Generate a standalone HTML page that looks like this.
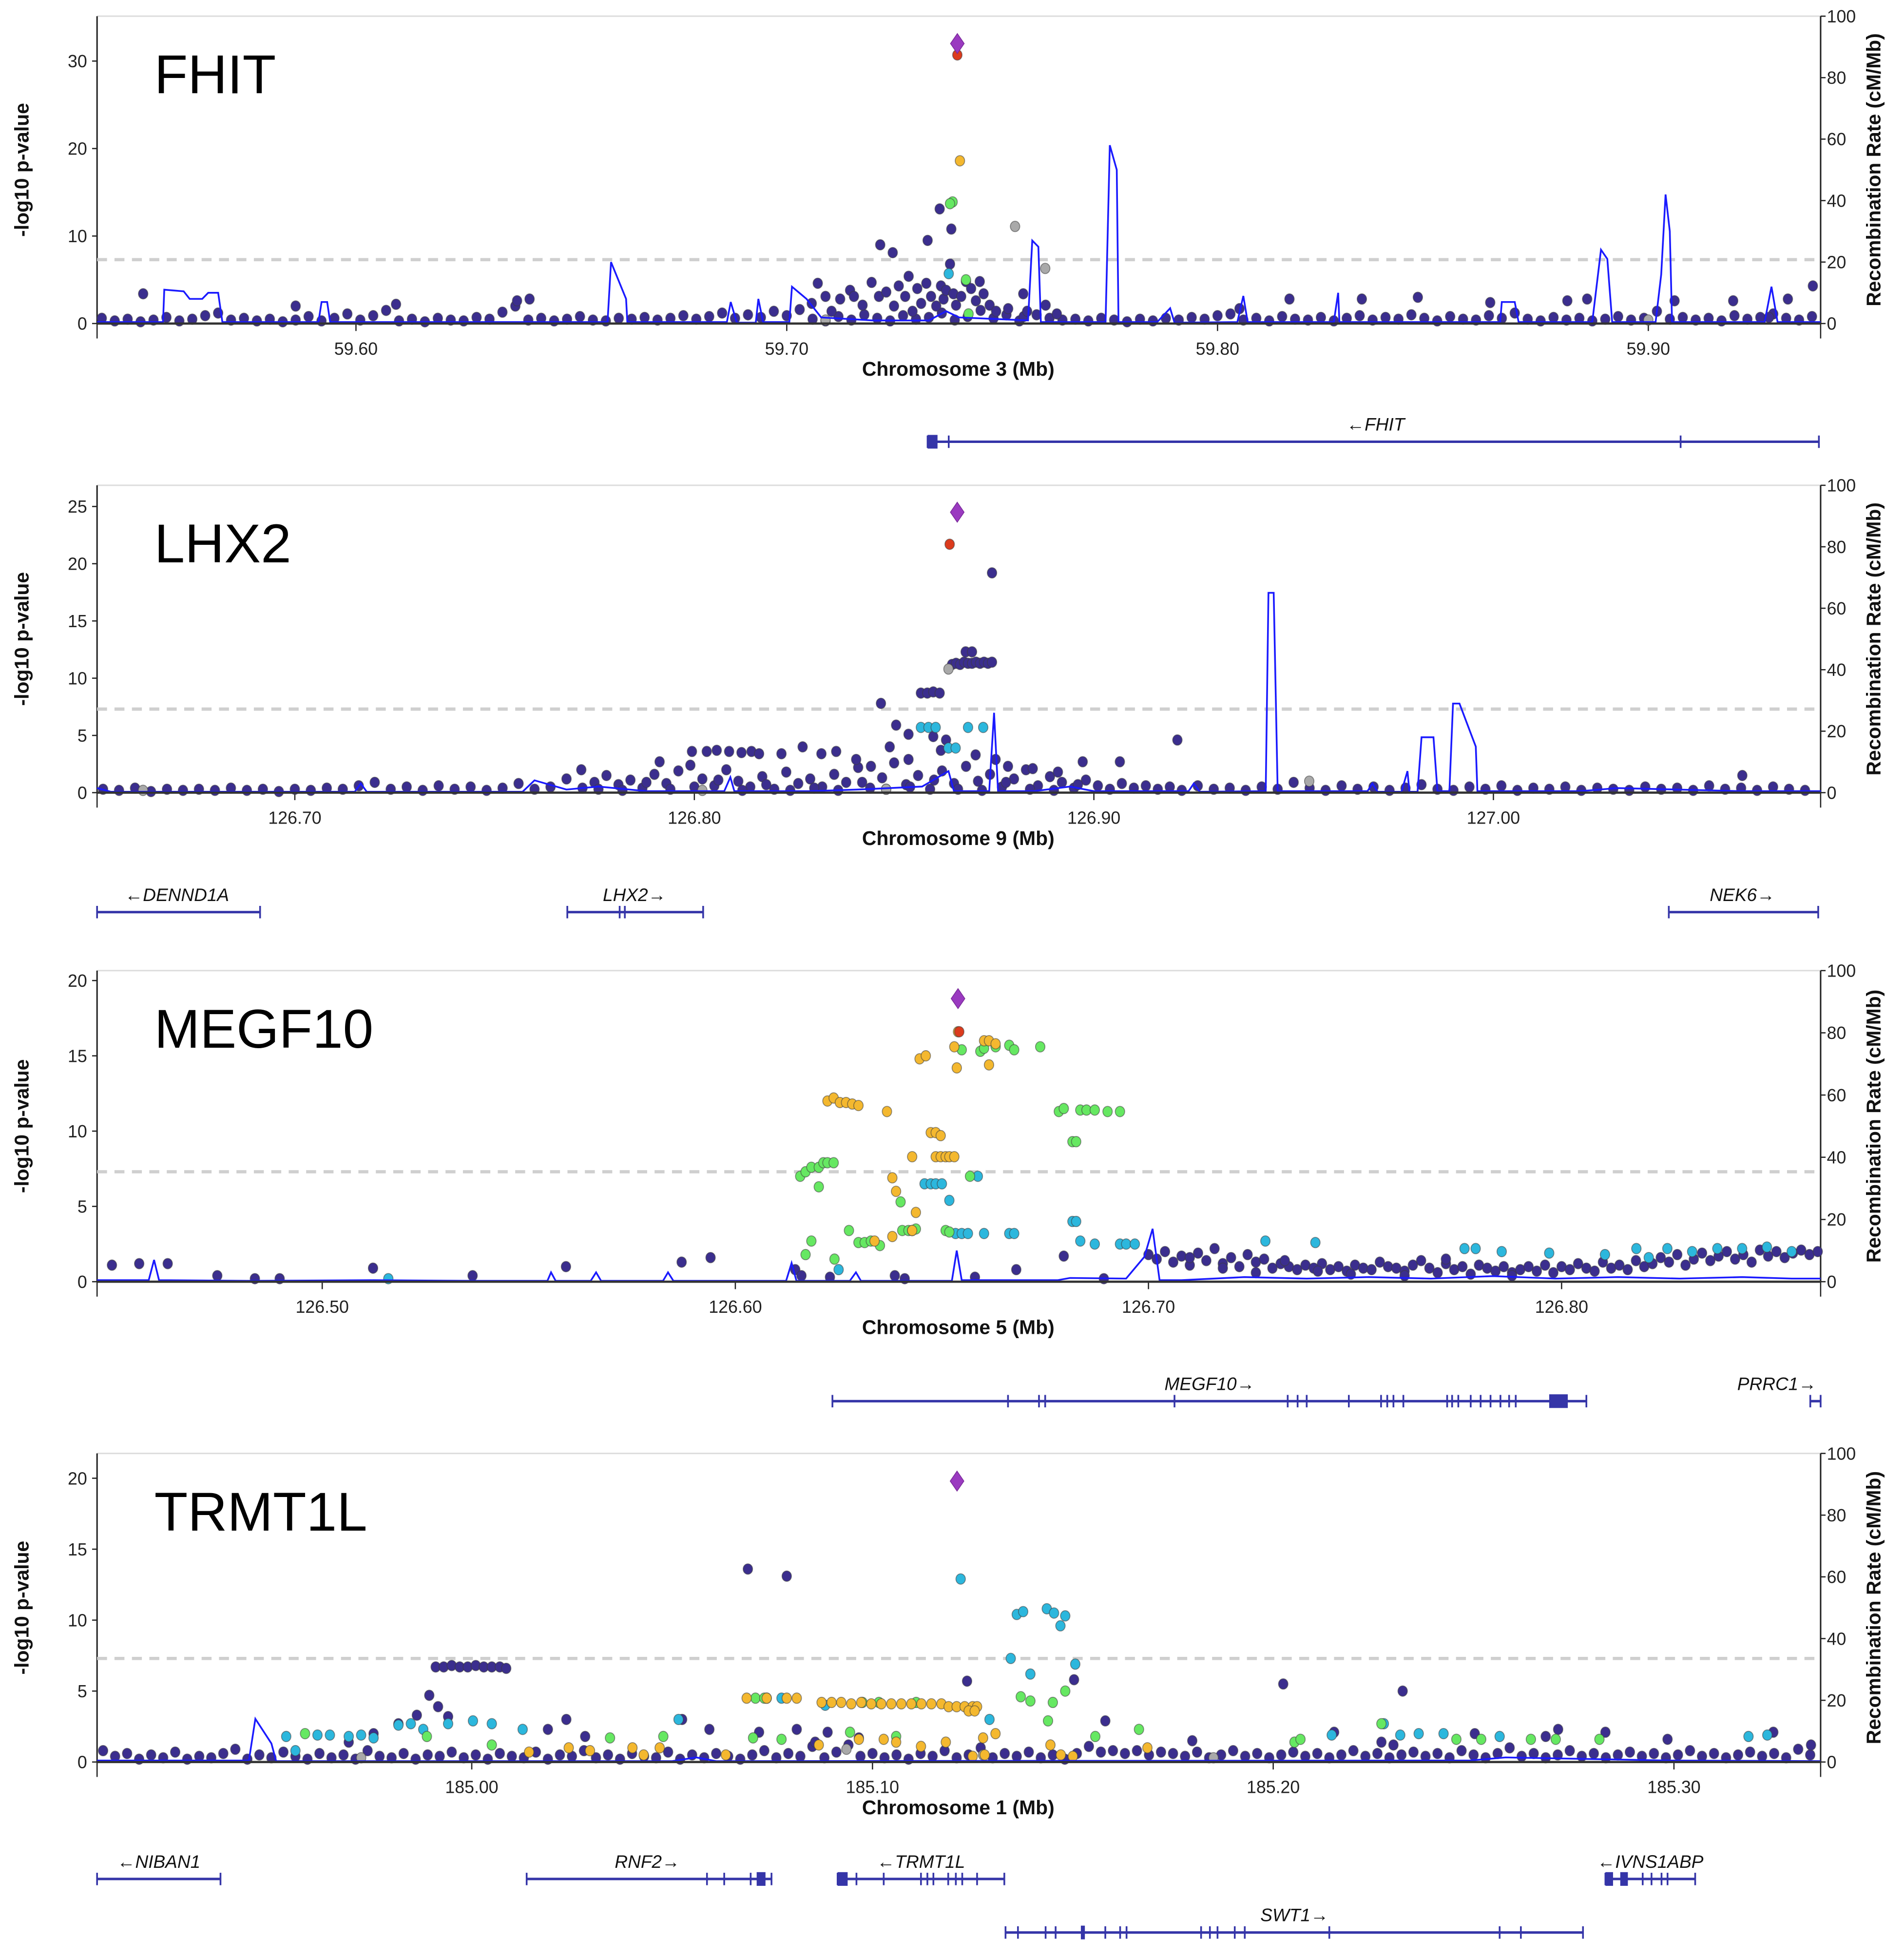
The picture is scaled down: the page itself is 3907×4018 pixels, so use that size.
<!DOCTYPE html>
<html><head><meta charset="utf-8"><title>Regional association plots</title>
<style>
html,body{margin:0;padding:0;background:#fff;}
svg{display:block;font-family:"Liberation Sans",Arial,sans-serif;}
</style></head>
<body>
<svg id="chart" xmlns="http://www.w3.org/2000/svg" width="3907" height="4018" viewBox="0 0 1530 1573.5" preserveAspectRatio="none"></svg>
<script>
// ---------------- DATA ----------------
// FHIT panel (chr3)
const fhitXTicks = [59.60, 59.70, 59.80, 59.90];
const fhitYTicks = [0, 10, 20, 30];
const fhitLead = [59.7396, 32.0];
const fhitBase = [[59.541,.6],[59.544,.3],[59.547,.5],[59.550,.2],[59.553,.4],[59.556,.7],[59.559,.3],[59.562,.5],[59.565,.9],[59.568,1.2],[59.571,.4],[59.574,.6],[59.577,.3],[59.580,.5],[59.583,.2],[59.586,.4],[59.589,.8],[59.592,.3],[59.595,.6],[59.598,1.1],[59.601,.4],[59.604,.9],[59.607,1.5],[59.610,.3],[59.613,.5],[59.616,.2],[59.619,.6],[59.622,.4],[59.625,.3],[59.628,.7],[59.631,.5],[59.634,1.3],[59.637,2.0],[59.640,.4],[59.643,.6],[59.646,.3],[59.649,.5],[59.652,.8],[59.655,.4],[59.658,.3],[59.661,.6],[59.664,.5],[59.667,.7],[59.670,.4],[59.673,.6],[59.676,.9],[59.679,.5],[59.682,.8],[59.685,1.2],[59.688,.6],[59.691,1.0],[59.694,.7],[59.697,1.4],[59.700,.9],[59.703,1.6],[59.706,.5],[59.709,.3],[59.712,.8],[59.715,.4],[59.718,1.0],[59.721,.6],[59.724,.3],[59.727,.9],[59.730,.5],[59.733,.7],[59.736,1.2],[59.739,.4],[59.742,.8],[59.745,1.5],[59.748,.6],[59.751,1.0],[59.754,.3],[59.755,.8],[59.758,1.0],[59.761,.6],[59.764,.4],[59.767,.5],[59.770,.3],[59.773,.6],[59.776,.4],[59.779,.2],[59.782,.5],[59.785,.3],[59.788,.6],[59.791,.4],[59.794,.7],[59.797,.5],[59.800,.9],[59.803,1.1],[59.806,.4],[59.809,.6],[59.812,.3],[59.815,.8],[59.818,.5],[59.821,.4],[59.824,.7],[59.827,.3],[59.830,.6],[59.833,.9],[59.836,.4],[59.839,.7],[59.842,.5],[59.845,1.0],[59.848,.6],[59.851,.3],[59.854,.8],[59.857,.5],[59.860,.4],[59.863,.9],[59.866,.6],[59.869,1.2],[59.872,.5],[59.875,.3],[59.878,.7],[59.881,.4],[59.884,.6],[59.887,.3],[59.890,.5],[59.893,.8],[59.896,.4],[59.899,.6],[59.902,1.4],[59.905,.5],[59.908,.7],[59.911,.4],[59.914,.6],[59.917,.3],[59.920,.9],[59.923,.5],[59.926,.7],[59.929,1.1],[59.932,.6],[59.935,.4],[59.938,.8],
[59.5506,3.4],[59.6093,2.2],[59.6374,2.6],[59.6403,2.8],[59.5860,2.0],[59.8051,1.7],[59.8167,2.8],[59.8335,2.8],[59.8465,3.0],[59.8633,2.4],[59.8812,2.6],[59.8858,2.8],[59.9061,2.6],[59.9197,2.6],[59.9324,2.8],[59.9382,4.3],[59.9280,0.7]];
const fhitNavy = [[59.7058,2.3],[59.7072,4.6],[59.7090,3.1],[59.7104,1.4],[59.7124,2.8],[59.7147,3.8],[59.7156,3.1],[59.7176,2.1],[59.7197,4.7],[59.7214,3.1],[59.7217,9.0],[59.7231,3.6],[59.7246,8.1],[59.7249,2.0],[59.7260,4.3],[59.7275,3.1],[59.7283,5.4],[59.7292,1.4],[59.7303,4.0],[59.7312,2.3],[59.7327,9.5],[59.7324,4.6],[59.7335,3.1],[59.7347,2.0],[59.7355,13.1],[59.7358,4.3],[59.7364,2.8],[59.7370,3.8],[59.7382,10.8],[59.7379,6.8],[59.7387,3.4],[59.7393,2.1],[59.7405,3.1],[59.7416,4.8],[59.7428,4.0],[59.7439,2.6],[59.7448,4.8],[59.7457,3.4],[59.7471,2.1],[59.7486,1.4],[59.7514,1.7],[59.7549,3.4],[59.7558,1.4],[59.7601,2.1],[59.7627,1.1]];
const fhitGray = [[59.7530,11.1],[59.7600,6.3],[59.7090,0.4],[59.9000,0.4]];
const fhitCyan = [[59.7376,5.7]];
const fhitGreen = [[59.7385,13.9],[59.7379,13.7],[59.7416,5.0],[59.7422,1.1]];
const fhitOrange = [[59.7402,18.6]];
const fhitRed = [[59.7396,30.7]];
const fhitRecomb = [[59.5399,.5],[59.5552,.5],[59.5555,11],[59.5600,10.5],[59.5614,8],[59.5643,8],[59.5657,10],[59.5680,10],[59.5690,.5],[59.5913,.5],[59.5920,7],[59.5933,7],[59.5940,.5],[59.6584,.5],[59.6592,20],[59.6627,8],[59.6630,.5],[59.6861,.5],[59.6870,7],[59.6884,.3],[59.6928,.3],[59.6934,8],[59.6945,.5],[59.7006,.5],[59.7012,12],[59.7046,8],[59.7080,2],[59.7200,1],[59.7330,1],[59.7370,4],[59.7400,2],[59.7560,1],[59.7570,27],[59.7584,25],[59.7590,.5],[59.7740,.5],[59.7750,58],[59.7766,50],[59.7770,.5],[59.7860,.5],[59.7890,5],[59.7900,.3],[59.8046,.5],[59.8060,9],[59.8070,.5],[59.8270,.5],[59.8280,10],[59.8283,.5],[59.8656,.5],[59.8660,7],[59.8690,7],[59.8699,.5],[59.8870,.5],[59.8890,24],[59.8905,21],[59.8916,.5],[59.9017,.5],[59.9030,16],[59.9040,42],[59.9050,30],[59.9055,.5],[59.9270,.5],[59.9286,12],[59.9300,.5],[59.9400,.5]];

// LHX2 panel (chr9)
const lhx2XTicks = [126.70, 126.80, 126.90, 127.00];
const lhx2YTicks = [0, 5, 10, 15, 20, 25];
const lhx2Lead = [126.8658, 24.5];
const lhx2Base = [[126.652,.3],[126.656,.2],[126.660,.4],[126.664,.1],[126.668,.3],[126.672,.2],[126.676,.3],[126.680,.2],[126.684,.4],[126.688,.2],[126.692,.3],[126.696,.1],[126.700,.3],[126.704,.2],[126.708,.4],[126.712,.3],[126.716,.6],[126.720,.9],[126.724,.3],[126.728,.5],[126.732,.2],[126.736,.6],[126.740,.3],[126.744,.5],[126.748,.2],[126.752,.4],[126.756,.8],[126.760,.3],[126.764,.5],[126.768,1.2],[126.772,.4],[126.775,.9],[126.778,1.5],[126.781,.7],[126.784,1.1],[126.787,.4],[126.790,1.6],[126.793,.8],[126.796,1.9],[126.799,2.4],[126.802,1.2],[126.805,.6],[126.808,2.0],[126.811,1.0],[126.814,.5],[126.817,1.4],[126.820,.3],[126.823,1.8],[126.826,.8],[126.829,1.2],[126.832,.5],[126.835,1.6],[126.838,.9],[126.841,2.2],[126.844,.4],[126.847,1.3],[126.850,2.6],[126.853,.7],[126.856,1.5],[126.859,.3],[126.862,1.9],[126.865,.8],[126.868,2.3],[126.871,1.0],[126.874,1.6],[126.877,.5],[126.880,1.2],[126.883,2.0],[126.886,.6],[126.889,1.4],[126.892,.9],[126.895,.4],[126.898,1.1],[126.901,.6],[126.904,.3],[126.907,.8],[126.910,.4],[126.913,.6],[126.916,.3],[126.919,.5],[126.922,.2],[126.926,.6],[126.930,.3],[126.934,.4],[126.938,.2],[126.942,.5],[126.946,.3],[126.950,.9],[126.954,.4],[126.958,.2],[126.962,.6],[126.966,.3],[126.970,.5],[126.974,.2],[126.978,.4],[126.982,.7],[126.986,.3],[126.990,.2],[126.994,.5],[126.998,.3],[127.002,.6],[127.006,.2],[127.010,.4],[127.014,.3],[127.018,.5],[127.022,.2],[127.026,.4],[127.030,.3],[127.034,.2],[127.038,.5],[127.042,.3],[127.046,.4],[127.050,.2],[127.054,.6],[127.058,.3],[127.062,.4],[127.066,.2],[127.070,.5],[127.074,.3],[127.078,.2],
[126.776,.3],[126.782,.2],[126.788,.9],[126.794,.3],[126.800,.5],[126.806,1.1],[126.812,.2],[126.818,.7],[126.824,.2],[126.830,.4],[126.836,.2],[126.842,.9],[126.848,.3],[126.854,.5],[126.860,1.1],[126.866,.3],[126.872,.2],[126.878,.9],[126.884,.3],[126.890,.2],[126.896,.7]];
const lhx2Navy = [[126.8745,19.2],[126.8645,11.2],[126.8655,11.3],[126.8665,11.2],[126.8675,11.4],[126.8685,11.3],[126.8695,11.3],[126.8705,11.4],[126.8715,11.3],[126.8725,11.4],[126.8735,11.3],[126.8745,11.4],[126.8679,12.3],[126.8695,12.3],[126.8567,8.7],[126.8583,8.7],[126.8598,8.8],[126.8614,8.7],[126.8467,7.8],[126.8505,5.9],[126.8536,5.1],[126.8598,4.9],[126.8630,4.6],[126.8617,3.7],[126.8704,3.3],[126.7717,2.0],[126.7913,2.7],[126.7994,3.6],[126.8031,3.6],[126.8056,3.7],[126.8087,3.6],[126.8118,3.5],[126.8143,3.6],[126.8162,3.4],[126.8218,3.4],[126.8271,4.0],[126.8318,3.4],[126.8355,3.6],[126.8405,2.9],[126.8442,2.3],[126.8489,4.0],[126.8536,2.9],[126.8754,2.9],[126.8785,2.3],[126.8847,2.1],[126.8910,1.8],[126.8972,2.7],[126.9065,2.7],[126.9209,4.6],[127.0623,1.5]];
const lhx2Gray = [[126.8636,10.8],[126.9539,1.0],[126.6620,0.2],[126.8020,0.2],[126.8480,0.3]];
const lhx2Cyan = [[126.8567,5.7],[126.8586,5.7],[126.8604,5.7],[126.8685,5.7],[126.8723,5.7],[126.8636,3.9],[126.8654,3.9]];
const lhx2Red = [[126.8639,21.7]];
const lhx2Recomb = [[126.6505,1.5],[126.654,.3],[126.715,.3],[126.7165,3],[126.718,.3],[126.757,.3],[126.760,4],[126.768,1],[126.776,2],[126.788,.5],[126.8075,.5],[126.809,5],[126.810,.5],[126.829,.5],[126.841,1],[126.857,2],[126.8636,7],[126.865,.5],[126.8738,.5],[126.875,26],[126.876,.5],[126.885,.5],[126.894,2],[126.900,.5],[126.9237,.5],[126.925,3],[126.9265,.3],[126.943,.5],[126.9437,65],[126.945,65],[126.946,.5],[126.9685,.5],[126.9697,3],[126.971,.3],[126.977,.3],[126.9785,7],[126.979,.3],[126.981,.3],[126.982,18],[126.985,18],[126.986,.5],[126.989,.5],[126.9899,29],[126.9915,29],[126.9956,15],[126.996,.5],[127.0218,.5],[127.031,1.5],[127.062,.5],[127.082,.5]];

// MEGF10 panel (chr5)
const megXTicks = [126.50, 126.60, 126.70, 126.80];
const megYTicks = [0, 5, 10, 15, 20];
const megLead = [126.6539, 18.8];
const megBase = [[126.4491,1.1],[126.4557,1.2],[126.4626,1.2],[126.4746,.4],[126.4837,.2],[126.4897,.2],[126.5123,.9],[126.5364,.4],[126.5590,1.0],[126.5870,1.3],[126.5940,1.6],[126.6145,.8],[126.6160,.4],[126.6229,.3],[126.6386,.4],[126.6680,.8],[126.6795,1.7],[126.6892,.2],[126.6410,.2],[126.6580,.3],
[126.700,1.8],[126.702,1.5],[126.704,2.0],[126.706,1.3],[126.708,1.7],[126.710,1.1],[126.712,1.9],[126.714,1.4],[126.716,2.2],[126.718,1.2],[126.720,1.6],[126.722,1.0],[126.724,1.8],[126.726,1.3],[126.728,1.5],[126.730,.9],[126.732,1.2],[126.734,1.0],[126.736,.8],[126.738,1.1],[126.740,.9],[126.742,1.2],[126.744,.8],[126.746,1.0],[126.748,.7],[126.750,1.1],[126.752,.9],[126.754,.8],[126.756,1.3],[126.758,1.0],[126.760,.9],[126.762,.7],[126.764,1.1],[126.766,1.4],[126.768,.9],[126.770,.6],[126.772,1.2],[126.774,.8],[126.776,1.0],[126.778,.5],[126.780,1.1],[126.782,.9],[126.784,.7],[126.786,1.0],[126.788,.6],[126.790,.8],[126.792,1.0],[126.794,.7],[126.796,1.1],[126.798,.6],[126.800,1.0],[126.802,.8],[126.804,1.2],[126.806,.9],[126.808,.7],[126.810,1.3],[126.812,.9],[126.814,1.1],[126.816,.8],[126.818,1.4],[126.820,1.0],[126.822,1.2],[126.824,1.6],[126.826,1.3],[126.828,1.8],[126.830,1.1],[126.832,1.5],[126.834,1.9],[126.836,1.4],[126.838,1.7],[126.840,2.0],[126.842,1.5],[126.844,1.8],[126.846,1.3],[126.848,2.1],[126.850,1.7],[126.852,2.0],[126.854,1.6],[126.856,1.9],[126.858,2.1],[126.860,1.8],[126.862,2.0],
[126.7100,1.6],[126.7180,.9],[126.7260,.6],[126.7330,1.4],[126.7410,.7],[126.7490,.5],[126.7620,.4],[126.7720,1.5],[126.7880,.4]];
const megOrange = [[126.6539,16.6],[126.6530,15.6],[126.6536,14.2],[126.6446,14.8],[126.6461,15.0],[126.6602,16.0],[126.6614,16.0],[126.6630,15.8],[126.6223,12.0],[126.6238,12.2],[126.6253,11.9],[126.6268,11.9],[126.6283,11.8],[126.6298,11.7],[126.6367,11.3],[126.6473,9.9],[126.6485,9.9],[126.6497,9.7],[126.6428,8.3],[126.6485,8.3],[126.6497,8.3],[126.6509,8.3],[126.6518,8.3],[126.6530,8.3],[126.6380,6.9],[126.6389,6.0],[126.6437,4.6],[126.6380,3.0],[126.6337,2.7],[126.6428,3.4],[126.6614,14.4]];
const megGreen = [[126.6593,15.3],[126.6602,15.5],[126.6630,15.6],[126.6663,15.7],[126.6675,15.4],[126.6738,15.6],[126.6548,15.4],[126.6157,7.0],[126.6170,7.3],[126.6184,7.6],[126.6202,7.6],[126.6213,7.9],[126.6223,7.9],[126.6238,7.9],[126.6202,6.3],[126.6184,2.7],[126.6298,2.6],[126.6313,2.6],[126.6328,2.7],[126.6350,2.4],[126.6404,3.4],[126.6419,3.4],[126.6428,3.4],[126.6437,3.5],[126.6509,3.4],[126.6518,3.3],[126.6783,11.3],[126.6795,11.5],[126.6835,11.4],[126.6850,11.4],[126.6870,11.4],[126.6901,11.3],[126.6931,11.3],[126.6816,9.3],[126.6825,9.3],[126.6568,7.0],[126.6400,5.3],[126.6275,3.4],[126.6170,1.8],[126.6240,1.5]];
const megCyan = [[126.6458,6.5],[126.6473,6.5],[126.6485,6.5],[126.6500,6.5],[126.6587,7.0],[126.6518,5.4],[126.6533,3.2],[126.6548,3.2],[126.6563,3.2],[126.6602,3.2],[126.6663,3.2],[126.6675,3.2],[126.6816,4.0],[126.6825,4.0],[126.6870,2.5],[126.6931,2.5],[126.6946,2.5],[126.6967,2.5],[126.6835,2.7],[126.7283,2.7],[126.7404,2.6],[126.7765,2.2],[126.7792,2.2],[126.7855,2.0],[126.7970,1.9],[126.8105,1.8],[126.8181,2.2],[126.8211,1.6],[126.8256,2.2],[126.8316,2.0],[126.8377,2.2],[126.8437,2.2],[126.8497,2.3],[126.8557,2.0],[126.6250,0.8],[126.5160,0.2]];
const megRed = [[126.6542,16.6]];
const megRecomb = [[126.4455,.5],[126.458,.5],[126.4593,7],[126.4605,.5],[126.4822,.3],[126.5123,.5],[126.5364,.3],[126.5545,.3],[126.5554,3],[126.5565,.3],[126.5650,.3],[126.5663,3],[126.5675,.3],[126.5825,.3],[126.5837,3],[126.585,.3],[126.6123,.3],[126.6136,6],[126.6148,.3],[126.6277,.3],[126.6292,3],[126.6304,.3],[126.6524,.3],[126.6536,10],[126.6548,.5],[126.678,.5],[126.681,1.2],[126.6946,1],[126.6990,8],[126.7010,17],[126.7027,.5],[126.708,.5],[126.7232,1.5],[126.7383,1],[126.7533,1.5],[126.7684,1],[126.7834,1.8],[126.7985,1],[126.8136,1.5],[126.8286,1],[126.8437,1.5],[126.8557,1],[126.8627,1]];

// TRMT1L panel (chr1)
const trmXTicks = [185.00, 185.10, 185.20, 185.30];
const trmYTicks = [0, 5, 10, 15, 20];
const trmLead = [185.1211, 19.8];
const trmBase = [[184.908,.8],[184.911,.4],[184.914,.6],[184.917,.2],[184.920,.5],[184.923,.3],[184.926,.7],[184.929,.2],[184.932,.4],[184.935,.3],[184.938,.6],[184.941,.9],[184.944,.2],[184.947,.5],[184.950,.3],[184.953,.7],[184.956,.4],[184.959,.2],[184.962,.6],[184.965,.3],[184.968,.5],[184.971,.2],[184.974,.8],[184.977,.4],[184.980,.3],[184.983,.6],[184.986,.2],[184.989,.5],[184.992,.4],[184.995,.7],[184.998,.3],[185.001,.5],[185.004,.2],[185.007,.6],[185.010,.4],[185.013,.3],[185.016,.7],[185.019,.2],[185.022,.5],[185.025,.4],[185.028,.8],[185.031,.3],[185.034,.5],[185.037,.2],[185.040,.6],[185.043,.4],[185.046,.3],[185.049,.7],[185.052,.2],[185.055,.5],[185.058,.3],[185.061,.6],[185.064,.4],[185.067,.2],[185.070,.5],[185.073,.8],[185.076,.3],[185.079,.6],[185.082,.4],[185.085,1.1],[185.088,.3],[185.091,.7],[185.094,1.2],[185.097,.4],[185.100,.6],[185.103,.3],[185.106,.5],[185.109,.2],[185.112,.6],[185.115,.4],[185.118,.8],[185.121,.3],[185.124,.5],[185.127,1.0],[185.130,.3],[185.133,.6],[185.136,.4],[185.139,.7],[185.142,.3],[185.145,.5],[185.148,.2],[185.151,.6],[185.154,1.1],[185.157,.7],[185.160,.8],[185.163,.6],[185.166,.8],[185.169,.5],[185.172,.7],[185.175,.6],[185.178,.4],[185.181,.7],[185.184,.3],[185.187,.5],[185.190,.8],[185.193,.4],[185.196,.6],[185.199,.3],[185.202,.5],[185.205,.7],[185.208,.4],[185.211,.6],[185.214,.3],[185.217,.5],[185.220,.8],[185.223,.4],[185.226,.6],[185.229,.3],[185.232,.5],[185.235,.7],[185.238,.4],[185.241,.6],[185.244,.3],[185.247,.8],[185.250,.5],[185.253,.3],[185.256,.6],[185.259,1.0],[185.262,.4],[185.265,.6],[185.268,.3],[185.271,.5],[185.274,.8],[185.277,.4],[185.280,.6],[185.283,.3],[185.286,.5],[185.289,.7],[185.292,.4],[185.295,.6],[185.298,.3],[185.301,.5],[185.304,.8],[185.307,.4],[185.310,.6],[185.313,.3],[185.316,.5],[185.319,.7],[185.322,.4],[185.325,.6],[185.328,.3],[185.331,.9],[185.334,.5]];
const trmNavy = [[185.0689,13.6],[185.0786,13.1],[184.9910,6.7],[184.9930,6.7],[184.9950,6.8],[184.9970,6.7],[184.9990,6.7],[185.0010,6.8],[185.0030,6.7],[185.0050,6.7],[185.0070,6.7],[185.0086,6.6],[184.9894,4.7],[184.9916,3.9],[184.9817,2.7],[184.9863,3.3],[184.9941,3.2],[184.9755,2.0],[184.9693,1.4],[185.0190,2.3],[185.0236,3.0],[185.0283,1.8],[185.0525,3.0],[185.0593,2.3],[185.0717,2.1],[185.0811,2.3],[185.0857,1.4],[185.0888,2.1],[185.0966,1.7],[185.1236,5.7],[185.1503,5.8],[185.1581,2.9],[185.1798,1.5],[185.2025,5.5],[185.2152,2.1],[185.2270,1.4],[185.2323,5.0],[185.2503,2.0],[185.2711,2.3],[185.2829,2.1],[185.2984,1.6],[185.3248,2.1],[185.3342,1.2],[185.2680,1.8],[185.2300,1.2]];
const trmOrange = [[185.0686,4.5],[185.0736,4.5],[185.0786,4.5],[185.0811,4.5],[185.0873,4.2],[185.0898,4.2],[185.0922,4.2],[185.0947,4.1],[185.0972,4.2],[185.0997,4.1],[185.1022,4.1],[185.1047,4.1],[185.1072,4.1],[185.1097,4.1],[185.1122,4.1],[185.1147,4.1],[185.1172,4.1],[185.1190,3.9],[185.1210,3.9],[185.1230,3.9],[185.1250,3.9],[185.1261,3.9],[185.1240,3.6],[185.1255,3.6],
[185.0143,0.7],[185.0242,1.0],[185.0295,0.8],[185.0401,1.0],[185.0429,0.5],[185.0469,1.0],[185.0634,0.5],[185.0866,1.2],[185.0966,1.6],[185.1028,1.6],[185.1059,1.4],[185.1121,1.1],[185.1183,1.4],[185.1276,1.7],[185.1307,2.0],[185.1444,1.2],[185.1686,1.0],[185.1250,0.4],[185.1280,0.5],[185.1470,0.5],[185.1500,0.4]];
const trmGreen = [[185.0708,4.5],[185.0730,4.5],[185.0975,4.2],[185.1016,4.2],[185.1109,4.2],[185.1481,5.0],[185.1450,4.2],[185.1370,4.6],[185.1394,4.3],[184.9584,2.0],[184.9888,1.8],[185.0050,1.2],[185.0345,1.7],[185.0478,1.8],[185.0702,1.7],[185.0773,1.6],[185.0944,2.1],[185.1059,1.8],[185.1438,2.9],[185.1556,1.8],[185.1665,2.3],[185.2053,1.4],[185.2068,1.6],[185.2270,2.7],[185.2457,1.6],[185.2519,1.6],[185.2643,1.6],[185.2705,1.6],[185.2814,1.6]];
const trmCyan = [[185.1220,12.9],[185.1360,10.4],[185.1376,10.6],[185.1435,10.8],[185.1453,10.5],[185.1481,10.3],[185.1469,9.6],[185.1345,7.3],[185.1506,6.9],[185.1394,6.2],[185.0736,4.5],[185.0773,4.5],[185.0882,4.0],[184.9537,1.8],[184.9615,1.9],[184.9646,1.9],[184.9693,1.8],[184.9724,1.9],[184.9755,1.7],[184.9817,2.6],[184.9848,2.7],[184.9879,2.3],[184.9941,2.7],[185.0003,2.9],[185.0050,2.7],[185.0127,2.3],[185.0516,3.0],[185.1292,3.0],[185.2146,1.9],[185.2276,2.7],[185.2317,1.9],[185.2363,2.0],[185.2425,2.0],[185.2565,1.8],[185.3186,1.8],[185.3233,1.9],[184.9560,0.8]];
const trmGray = [[184.9724,0.3],[185.0935,0.9],[185.1276,0.5],[185.1851,0.3]];
const trmRecomb = [[184.9065,.5],[184.9444,.5],[184.9460,14],[184.9500,6],[184.9512,.3],[185.0500,.3],[185.0560,1.5],[185.0610,.3],[185.2490,.5],[185.2580,1.5],[185.2985,.5],[185.3366,.3]];

// ---------------- DRAW ----------------
const NS = "http://www.w3.org/2000/svg";
const svg = document.getElementById('chart');
const COL = {navy:'#3b2e8e', cyan:'#2cb7dd', green:'#66e862', orange:'#f4b82f', red:'#dc3b1d', gray:'#a9a9a9', lead:'#9a3ac0'};
function mk(tag, attrs, parent) {
  const el = document.createElementNS(NS, tag);
  for (const k in attrs) el.setAttribute(k, attrs[k]);
  (parent || svg).appendChild(el);
  return el;
}
const X0 = 78, X1 = 1463;

function panel(cfg) {
  const g = mk('g', {});
  
  
  const xs = v => X0 + (v - cfg.xmin) / (cfg.xmax - cfg.xmin) * (X1 - X0);
  const ys = v => cfg.bottom - v / cfg.ymax * (cfg.bottom - cfg.top);
  const yr = v => cfg.bottom - v / 100 * (cfg.bottom - cfg.top);

  // frame
  const topLine = mk('line', {x1:X0, x2:X1, y1:cfg.top, y2:cfg.top, stroke:'#ddd', 'stroke-width':1.2}, g);
  
  
  const la = mk('line', {x1:X0, x2:X0, y1:cfg.top, y2:cfg.bottom, stroke:'#222', 'stroke-width':1.2}, g);
  
  
  const ra = mk('line', {x1:X1, x2:X1, y1:cfg.top, y2:cfg.bottom, stroke:'#222', 'stroke-width':1.2}, g);
  
  

  // threshold
  const th = mk('line', {x1:X0, x2:X1, y1:ys(7.3), y2:ys(7.3), stroke:'#cfcfcf', 'stroke-width':2.6, 'stroke-dasharray':'8 6'}, g);
  
  

  // left ticks
  cfg.yticks.forEach(t => {
    const tl = mk('line', {x1:X0-4, x2:X0, y1:ys(t), y2:ys(t), stroke:'#222', 'stroke-width':1}, g);
    
    
    const tx = mk('text', {x:X0-8, y:ys(t)+5, 'text-anchor':'end', 'font-size':14, fill:'#222'}, g);
    tx.textContent = t;
    
    
  });
  [0,20,40,60,80,100].forEach(t => {
    const tl = mk('line', {x1:X1, x2:X1+4, y1:yr(t), y2:yr(t), stroke:'#222', 'stroke-width':1}, g);
    
    
    const tx = mk('text', {x:X1+5, y:yr(t)+5, 'text-anchor':'start', 'font-size':14, fill:'#222'}, g);
    tx.textContent = t;
    
    
  });
  cfg.xticks.forEach(t => {
    const tl = mk('line', {x1:xs(t), x2:xs(t), y1:cfg.bottom, y2:cfg.bottom+6, stroke:'#222', 'stroke-width':1}, g);
    
    
    const tx = mk('text', {x:xs(t), y:cfg.bottom+25, 'text-anchor':'middle', 'font-size':14, fill:'#222'}, g);
    tx.textContent = t.toFixed(2);
    
    
  });
  const x0t = mk('line', {x1:X0, x2:X0, y1:cfg.bottom, y2:cfg.bottom+12, stroke:'#222', 'stroke-width':1}, g);
  
  
  const x1t = mk('line', {x1:X1, x2:X1, y1:cfg.bottom, y2:cfg.bottom+12, stroke:'#222', 'stroke-width':1}, g);
  
  

  // titles
  const xt = mk('text', {x:770, y:cfg.bottom+42, 'text-anchor':'middle', 'font-size':16, 'font-weight':'bold', fill:'#111'}, g);
  xt.textContent = cfg.xtitle;
  
  
  const mid = (cfg.top + cfg.bottom) / 2;
  const yt = mk('text', {x:23, y:mid, 'text-anchor':'middle', 'font-size':16, 'font-weight':'bold', fill:'#111', transform:`rotate(-90 23 ${mid})`}, g);
  yt.textContent = '-log10 p-value';
  
  
  const rt = mk('text', {x:1511, y:mid, 'text-anchor':'middle', 'font-size':16, 'font-weight':'bold', fill:'#111', transform:`rotate(-90 1511 ${mid})`}, g);
  rt.textContent = 'Recombination Rate (cM/Mb)';
  
  
  const nm = mk('text', {x:124, y:cfg.top+62, 'font-size':44, fill:'#000'}, g);
  nm.textContent = cfg.name;
  
  

  // points
  const dot = (arr, color, name) => arr.forEach(d => {
    const c = mk('ellipse', {cx:xs(d[0]), cy:ys(d[1]), rx:3.8, ry:4.2, fill:color, stroke:'rgba(60,60,60,0.55)', 'stroke-width':0.7}, g);
    
    
  });
  dot(cfg.base, COL.navy, 'snp-point-low-ld');
  dot(cfg.navy || [], COL.navy, 'snp-point-low-ld');
  dot(cfg.gray || [], COL.gray, 'snp-point-no-ld');
  dot(cfg.cyan || [], COL.cyan, 'snp-point-ld-0.2');
  dot(cfg.green || [], COL.green, 'snp-point-ld-0.4');
  dot(cfg.orange || [], COL.orange, 'snp-point-ld-0.6');
  dot(cfg.red || [], COL.red, 'snp-point-ld-0.8');

  // recombination line (drawn over points)
  const pts = cfg.recomb.map(d => xs(d[0]).toFixed(1) + ',' + yr(d[1]).toFixed(1)).join(' ');
  const rl = mk('polyline', {points:pts, fill:'none', stroke:'#1a1aff', 'stroke-width':1.4}, g);
  
  

  // bottom axis
  const ba = mk('line', {x1:X0, x2:X1, y1:cfg.bottom, y2:cfg.bottom, stroke:'#333', 'stroke-width':1.8}, g);
  
  

  // lead SNP diamond
  const lx = xs(cfg.lead[0]), ly = ys(cfg.lead[1]);
  const dm = mk('polygon', {points:`${lx},${ly-8} ${lx+5.5},${ly} ${lx},${ly+8} ${lx-5.5},${ly}`, fill:COL.lead, stroke:'#7a2a9a', 'stroke-width':0.6}, g);
  
  

  // genes
  cfg.genes.forEach(gn => {
    const gg = mk('g', {}, g);
    
    
    const y = gn.y;
    const gl = mk('line', {x1:xs(gn.s), x2:xs(gn.e), y1:y, y2:y, stroke:'#3535a8', 'stroke-width':2}, gg);
    
    
    [gn.s, gn.e].concat(gn.ticks || []).forEach(t => {
      const tk = mk('line', {x1:xs(t), x2:xs(t), y1:y-5, y2:y+5, stroke:'#3535a8', 'stroke-width':1.4}, gg);
      
      
    });
    (gn.boxes || []).forEach(b => {
      const r = mk('rect', {x:xs(b[0]), y:y-5.5, width:Math.max(3, xs(b[1])-xs(b[0])), height:11, fill:'#3535a8'}, gg);
      
      
    });
    const lt = mk('text', {x:xs(gn.lx), y:y-9, 'text-anchor':'middle', 'font-size':14.5, 'font-style':'italic', fill:'#111'}, gg);
    lt.textContent = gn.label;
    
    
  });
}

panel({id:'fhit', name:'FHIT', xmin:59.5399, xmax:59.9400, top:13, bottom:260, ymax:35.13,
  xticks:fhitXTicks, yticks:fhitYTicks, xtitle:'Chromosome 3 (Mb)', lead:fhitLead,
  base:fhitBase, navy:fhitNavy, gray:fhitGray, cyan:fhitCyan, green:fhitGreen, orange:fhitOrange, red:fhitRed, recomb:fhitRecomb,
  genes:[{label:'←FHIT', s:59.7327, e:59.9396, lx:59.8367, y:355, ticks:[59.7376, 59.9075], boxes:[[59.7327,59.7350]]}]});

panel({id:'lhx2', name:'LHX2', xmin:126.6505, xmax:127.0819, top:390, bottom:637, ymax:26.85,
  xticks:lhx2XTicks, yticks:lhx2YTicks, xtitle:'Chromosome 9 (Mb)', lead:lhx2Lead,
  base:lhx2Base, navy:lhx2Navy, gray:lhx2Gray, cyan:lhx2Cyan, red:lhx2Red, recomb:lhx2Recomb,
  genes:[{label:'←DENND1A', s:126.6505, e:126.6913, lx:126.6705, y:733},
         {label:'LHX2→', s:126.7682, e:126.8022, lx:126.7850, y:733, ticks:[126.7813,126.7826]},
         {label:'NEK6→', s:127.0439, e:127.0813, lx:127.0623, y:733}]});

panel({id:'megf10', name:'MEGF10', xmin:126.4455, xmax:126.8627, top:780, bottom:1030, ymax:20.66,
  xticks:megXTicks, yticks:megYTicks, xtitle:'Chromosome 5 (Mb)', lead:megLead,
  base:megBase, cyan:megCyan, green:megGreen, orange:megOrange, red:megRed, recomb:megRecomb,
  genes:[{label:'MEGF10→', s:126.6235, e:126.8060, lx:126.7148, y:1126,
          ticks:[126.6660,126.6735,126.6750,126.7063,126.7337,126.7361,126.7383,126.7485,126.7563,126.7578,126.7593,126.7617,126.7723,126.7735,126.7750,126.7780,126.7804,126.7828,126.7852,126.7873,126.7889],
          boxes:[[126.7970,126.8015]]},
         {label:'PRRC1→', s:126.8602, e:126.8627, lx:126.8521, y:1126}]});

panel({id:'trmt1l', name:'TRMT1L', xmin:184.9065, xmax:185.3366, top:1168, bottom:1416, ymax:21.75,
  xticks:trmXTicks, yticks:trmYTicks, xtitle:'Chromosome 1 (Mb)', lead:trmLead,
  base:trmBase, navy:trmNavy, gray:trmGray, cyan:trmCyan, green:trmGreen, orange:trmOrange, recomb:trmRecomb,
  genes:[{label:'←NIBAN1', s:184.9065, e:184.9373, lx:184.9219, y:1510},
         {label:'RNF2→', s:185.0137, e:185.0748, lx:185.0438, y:1510, ticks:[185.0587,185.0630,185.0696], boxes:[[185.0711,185.0733]]},
         {label:'←TRMT1L', s:185.0913, e:185.1329, lx:185.1121, y:1510, ticks:[185.0960,185.1028,185.1121,185.1137,185.1152,185.1189,185.1208,185.1224,185.1261], boxes:[[185.0913,185.0938]]},
         {label:'←IVNS1ABP', s:185.2829, e:185.3053, lx:185.2941, y:1510, ticks:[185.2922,185.2944,185.2969,185.2984], boxes:[[185.2829,185.2848],[185.2866,185.2885]]},
         {label:'SWT1→', s:185.1332, e:185.2773, lx:185.2053, y:1553, ticks:[185.1363,185.1432,185.1457,185.1581,185.1618,185.1634,185.1820,185.1842,185.1861,185.1904,185.1929,185.2140,185.2565,185.2618], boxes:[[185.1520,185.1530]]}]});
</script>
</body></html>
